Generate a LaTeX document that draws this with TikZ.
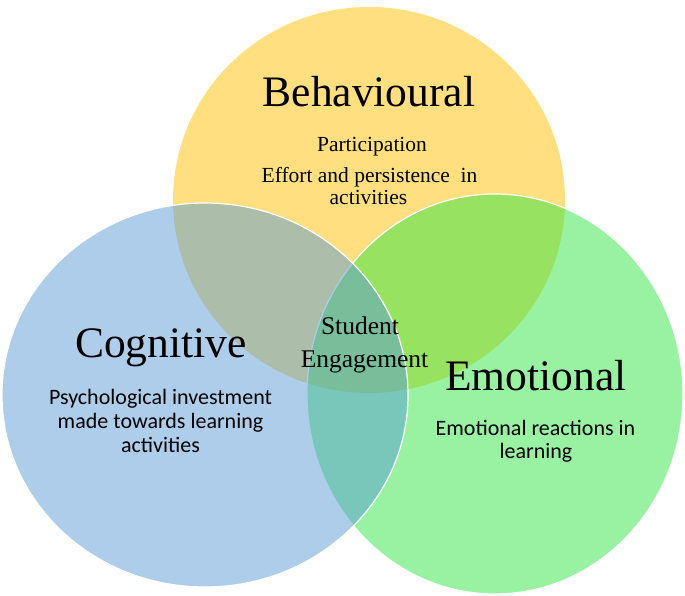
\documentclass[tikz,border=0pt]{standalone}
\usepackage{fontspec}
\setmainfont{Liberation Serif}
\newfontfamily\carlito{Carlito}
\definecolor{behavcol}{RGB}{255,192,0}
\definecolor{emocol}{RGB}{50,230,70}
\definecolor{cogcol}{RGB}{91,155,213}

\begin{document}
\begin{tikzpicture}[x=1pt,y=-1pt,
	circ/.style={fill opacity=0.5,draw=white,line width=1.2pt},
	title/.style={anchor=base,inner sep=0pt,font=\fontsize{43.5}{43.5}\selectfont},
	serif/.style={anchor=base,inner sep=0pt,font=\fontsize{21.5}{21.5}\selectfont},
	core/.style={anchor=base,inner sep=0pt,font=\fontsize{25.5}{25.5}\selectfont},
	sans/.style={anchor=base,inner sep=0pt,font=\carlito\fontsize{22}{22}\selectfont}]

	\useasboundingbox (0,0) rectangle (685,596);

	\fill[behavcol,fill opacity=0.5] (369,200) ellipse [x radius=196pt, y radius=193pt];
	\draw[circ,fill=emocol] (495,394) ellipse [x radius=188pt, y radius=200pt];
	\draw[circ,fill=cogcol] (205,395) ellipse [x radius=203pt, y radius=192pt];

	\node[title] (behav) at (369,107) {Behavioural};
	\node[serif] (particip) at (372,152) {Participation};
	\node[serif] (effort) at (369.5,183) {Effort and persistence~ in};
	\node[serif] (activ) at (368.5,204.5) {activities};

	\node[title] (cogn) at (161,357) {Cognitive};
	\node[sans] (psych) at (160.5,404) {Psychological investment};
	\node[sans] (towards) at (160.5,428) {made towards learning};
	\node[sans] (cogactiv) at (160.5,452) {activities};

	\node[core] (student) at (360,334) {Student};
	\node[core] (engage) at (364.5,367) {Engagement};

	\node[title] (emot) at (536,390) {Emotional};
	\node[sans] (reactions) at (535.5,435) {Emotional reactions in};
	\node[sans] (learning) at (536,458) {learning};
\end{tikzpicture}
\end{document}
